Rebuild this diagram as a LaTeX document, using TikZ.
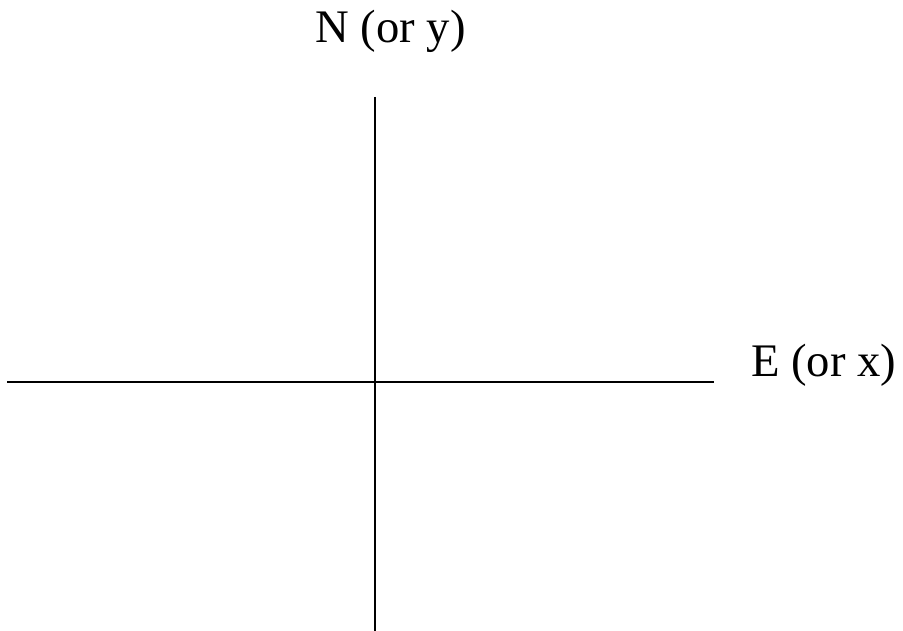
\documentclass[tikz,border=0pt]{standalone}
\usepackage{fontspec}
\setmainfont{Liberation Serif}
\usepackage{tikz}
\usetikzlibrary{positioning}

\begin{document}
\begin{tikzpicture}[
    x=0.75pt,y=-0.75pt,
    axis/.style={line width=1.5pt,black},
    lbl/.style={inner sep=0pt,anchor=base west,font=\fontsize{35}{40}\selectfont},
  ]
  \useasboundingbox (0,0) rectangle (903,631);

  \coordinate (ntop) at (374.5,97);
  \coordinate (nbot) at (374.5,632);
  \coordinate (wend) at (7,382);
  \coordinate (eend) at (714,382);

  \draw[axis] (ntop)--(nbot);
  \draw[axis] (wend)--(eend);

  \node[lbl] (nlbl) at (315,43)  {N (or y)};
  \node[lbl] (elbl) at (751,376) {E (or x)};
\end{tikzpicture}
\end{document}
